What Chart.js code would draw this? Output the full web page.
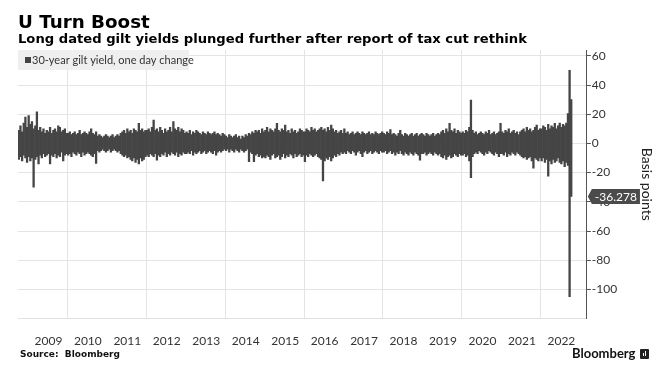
<!DOCTYPE html>
<html>
<head>
<meta charset="utf-8">
<script src="https://cdn.jsdelivr.net/npm/chart.js@4.4.1/dist/chart.umd.min.js"></script>
<style>
  body { margin: 0; background: #fff; }
  #wrap { position: relative; width: 670px; height: 384px; overflow: hidden; }
  #gilts { position: absolute; left: 0; top: 0; }
  .txt { position: absolute; line-height: 1; white-space: nowrap; color: #000; }
  #title { left: 18px; top: 11px; font: bold 18.3px "DejaVu Sans"; }
  #subtitle { left: 18px; top: 31px; font: bold 13.15px "DejaVu Sans"; }
  #source { left: 20px; top: 349px; font: bold 9px "DejaVu Sans"; color: #111; }
  #brand { left: 572px; top: 345px; font: bold 13px Lato; color: #111; }
  #brand .ico { display: inline-block; width: 9px; height: 10px; background: #222; border-radius: 1px;
    margin-left: 5px; vertical-align: -1px; position: relative; }
  #brand .ico i { position: absolute; bottom: 3px; width: 1px; background: #fff; }
</style>
</head>
<body>
<div id="wrap">
  <canvas id="gilts" width="670" height="384"></canvas>
  <div class="txt" id="title">U Turn Boost</div>
  <div class="txt" id="subtitle">Long dated gilt yields plunged further after report of tax cut rethink</div>
  <div class="txt" id="source">Source:&nbsp; Bloomberg</div>
  <div class="txt" id="brand">Bloomberg<span class="ico"><i style="left:3px;height:3px"></i><i style="left:5px;height:5px"></i></span></div>
</div>
<script>
// 30-year gilt yield, one day change (bp) - half-month ranges,
// first period = Oct 2008 (1st half), axis runs on to Feb 2023
const startYear = 2008;
const startMonth = 9; // October, 0-based
const periodCount = 346;

// highest daily change inside each half-month
const highs = [
  9, 12, 8, 14, 18, 11,
  19, 13, 15, 10, 12, 21.7, 9, 11, 8, 10, 7, 9, 8, 11, 7, 9, 10, 8, 12, 11, 8, 9, 10, 7,
  7, 8, 6, 7, 8, 6, 7, 9, 6, 7, 8, 7, 6, 8, 10, 7, 6, 8, 5, 6, 5, 4, 5, 6,
  5, 4, 5, 6, 4, 5, 6, 5, 7, 8, 9, 7, 10, 8, 9, 7, 10, 9, 8, 13.7, 9, 10, 8, 9,
  9, 10, 8, 11, 16, 9, 10, 8, 11, 9, 7, 10, 8, 9, 11, 8, 15, 10, 9, 11, 8, 10, 9, 7,
  8, 7, 9, 6, 8, 7, 9, 8, 7, 6, 8, 7, 6, 8, 7, 6, 7, 8, 6, 7, 6, 5, 7, 6,
  5, 4, 6, 5, 4, 5, 6, 4, 5, 3, 5, 4, 6, 5, 7, 6, 8, 7, 9, 8, 9, 7, 10, 8,
  9, 11, 8, 10, 9, 8, 10, 13.7, 9, 8, 10, 9, 12.6, 8, 9, 7, 10, 8, 9, 7, 8, 10, 9, 8,
  8, 10, 9, 8, 11, 9, 10, 8, 9, 10, 11, 9, 10, 8, 11, 9, 12.6, 10, 8, 9, 7, 8, 9, 7,
  10, 7, 8, 6, 7, 8, 6, 7, 8, 7, 6, 8, 7, 6, 7, 8, 6, 7, 6, 8, 7, 6, 7, 8,
  7, 6, 8, 7, 9.5, 6, 7, 6, 5, 7, 9, 6, 5, 7, 6, 5, 6, 7, 5, 6, 7, 5, 6, 7,
  6, 5, 7, 6, 5, 6, 7, 5, 6, 7, 6, 8, 9, 7, 10, 8, 13.7, 9, 8, 10, 7, 9, 8, 7,
  8, 7, 9, 8, 11, 29.7, 9, 7, 8, 6, 7, 8, 7, 6, 8, 7, 9, 6, 7, 8, 6, 7, 8, 13.7,
  8, 7, 9, 8, 10, 7, 8, 9, 7, 8, 6, 8, 9, 10, 8, 11, 9, 10, 8, 9, 11, 12.6, 9, 10,
  10, 12, 11, 9, 13, 10, 12, 11, 13.7, 10, 12, 14, 11, 13, 12, 14, 20.5, 50, 30
];

// lowest daily change inside each half-month
const lows = [
  -11, -9, -12, -8, -10, -13,
  -9, -12, -10, -30, -11, -9, -14, -8, -10, -7, -9, -8, -7, -14, -8, -9, -7, -10, -8, -9, -6, -12, -8, -7,
  -8, -7, -9, -6, -7, -8, -6, -7, -9, -6, -8, -7, -6, -7, -8, -9, -7, -13.7, -5, -6, -5, -4, -5, -6,
  -5, -4, -6, -5, -4, -5, -6, -5, -7, -8, -9, -8, -10, -9, -11, -12, -10, -13, -11, -14, -10, -12, -11, -9,
  -8, -9, -7, -8, -9, -7, -11.4, -8, -9, -7, -8, -6, -9, -7, -8, -6, -7, -8, -6, -9, -7, -8, -6, -7,
  -7, -6, -7, -5, -8, -6, -7, -6, -5, -7, -6, -5, -7, -6, -5, -6, -7, -5, -8, -6, -5, -6, -5, -4,
  -5, -4, -6, -4, -5, -6, -4, -5, -6, -4, -5, -6, -5, -4, -12.5, -6, -7, -12.5, -8, -7, -9, -8, -10, -9,
  -10, -8, -9, -11, -8, -7, -10, -9, -8, -11, -9, -7, -10, -8, -9, -7, -8, -10, -7, -9, -8, -7, -9, -8,
  -12.5, -8, -9, -7, -8, -9, -8, -7, -9, -10, -11, -25.6, -12, -10, -11, -9, -12, -10, -8, -9, -7, -8, -6, -7,
  -6, -7, -5, -6, -7, -5, -6, -8, -6, -5, -7, -9, -6, -5, -7, -6, -5, -7, -6, -5, -6, -7, -5, -6,
  -6, -5, -7, -6, -5, -7, -6, -8, -6, -7, -5, -7, -8, -6, -7, -8, -6, -7, -8, -6, -7, -8, -11.4, -7,
  -7, -6, -8, -7, -6, -7, -8, -6, -7, -8, -7, -9, -10, -8, -11, -9, -8, -10, -9, -7, -8, -9, -7, -8,
  -8, -7, -9, -8, -12, -23.5, -9, -7, -6, -7, -5, -6, -7, -8, -6, -7, -5, -6, -7, -8, -6, -7, -9, -7,
  -7, -8, -6, -9, -7, -8, -6, -7, -8, -6, -7, -8, -9, -10, -9, -11, -10, -9, -12, -17, -10, -11, -12, -10,
  -12, -10, -13, -11, -22.4, -12, -14, -11, -13, -12, -10, -13, -14, -12, -16, -13, -15, -105, -36.278
];

const latestChange = -36.278;
const yearLabels = ['2009', '2010', '2011', '2012', '2013', '2014', '2015',
  '2016', '2017', '2018', '2019', '2020', '2021', '2022'];
const yTickLabels = [60, 40, 20, 0, -20, -40, -60, -80, -100];
const yMinorTicks = [50, 30, 10, -10, -30, -50, -70, -90, -110];
const seriesName = '30-year gilt yield, one day change';

// half-month categories like "2008-10a"
const periods = [];
for (let i = 0; i < periodCount; i++) {
  const m = startMonth + Math.floor(i / 2);
  const y = startYear + Math.floor(m / 12);
  periods.push(y + '-' + String(m % 12 + 1).padStart(2, '0') + (i % 2 ? 'b' : 'a'));
}
const ranges = periods.map((p, i) => i < highs.length ? [lows[i], highs[i]] : null);

const isGridYear = (p) => p && p.endsWith('-01a') && Number(p.slice(0, 4)) % 2 === 0;

// grey legend box sitting on the top-left of the plot
const legendBox = {
  id: 'legendBox',
  afterDraw(chart) {
    const { ctx, chartArea } = chart;
    const ds = chart.data.datasets[0];
    ctx.save();
    ctx.fillStyle = '#efefef';
    ctx.fillRect(chartArea.left, chartArea.top, 171, 20);
    ctx.fillStyle = '#444';
    ctx.fillRect(chartArea.left + 7, chartArea.top + 7, 6, 6);
    ctx.font = '11px Lato';
    ctx.fillStyle = '#333';
    ctx.textBaseline = 'alphabetic';
    ctx.fillText(ds.label, chartArea.left + 14, chartArea.top + 13.5);
    ctx.restore();
  }
};

// dark tag on the right axis with the latest value
const lastValueTag = {
  id: 'lastValueTag',
  afterDraw(chart) {
    const { ctx, chartArea, scales } = chart;
    const y = scales.y.getPixelForValue(latestChange);
    const x0 = chartArea.right + 1;
    ctx.save();
    ctx.font = '12px Lato';
    const label = latestChange.toFixed(3);
    const w = ctx.measureText(label).width + 6;
    ctx.fillStyle = '#4b4b4b';
    ctx.beginPath();
    ctx.moveTo(x0, y);
    ctx.lineTo(x0 + 4, y - 7.5);
    ctx.lineTo(x0 + 4 + w, y - 7.5);
    ctx.lineTo(x0 + 4 + w, y + 7.5);
    ctx.lineTo(x0 + 4, y + 7.5);
    ctx.closePath();
    ctx.fill();
    ctx.fillStyle = '#fff';
    ctx.textBaseline = 'middle';
    ctx.fillText(label, x0 + 7, y + 0.5);
    ctx.restore();
  }
};

new Chart(document.getElementById('gilts').getContext('2d'), {
  type: 'bar',
  data: {
    labels: periods,
    datasets: [{
      label: seriesName,
      data: ranges,
      backgroundColor: '#454545',
      borderWidth: 0,
      barPercentage: 1,
      categoryPercentage: 1
    }]
  },
  options: {
    responsive: false,
    animation: false,
    layout: { padding: { top: 50, left: 18, right: 15, bottom: 21 } },
    plugins: { legend: { display: false }, tooltip: { enabled: false } },
    scales: {
      x: {
        offset: true,
        grid: {
          offset: true,
          drawTicks: false,
          color: (ctx) => isGridYear(periods[ctx.index]) ? '#e4e4e4' : 'transparent'
        },
        border: { color: '#e0e0e0' },
        ticks: {
          autoSkip: false,
          maxRotation: 0,
          minRotation: 0,
          padding: 15,
          color: '#333',
          font: { family: 'Lato', size: 12 },
          callback: function (value) {
            const p = this.getLabelForValue(value);
            const yr = p.slice(0, 4);
            return p.endsWith('-07a') && yearLabels.includes(yr) ? yr : '';
          }
        }
      },
      y: {
        position: 'right',
        min: -120,
        max: 64,
        afterBuildTicks: (scale) => {
          scale.ticks = yTickLabels.concat(yMinorTicks).sort((a, b) => b - a).map((v) => ({ value: v }));
        },
        grid: {
          color: (ctx) => ctx.tick && yTickLabels.includes(ctx.tick.value) ? '#e4e4e4' : 'transparent',
          tickColor: '#555',
          tickLength: 4
        },
        border: { color: '#555' },
        ticks: {
          padding: 1,
          color: '#333',
          font: { family: 'Lato', size: 12 },
          callback: (v) => yTickLabels.includes(v) ? String(v) : ''
        },
        title: {
          display: true,
          text: 'Basis points',
          color: '#222',
          font: { family: 'Lato', size: 14 },
          padding: { top: 0, bottom: 20 }
        }
      }
    }
  },
  plugins: [legendBox, lastValueTag]
});
</script>
</body>
</html>
